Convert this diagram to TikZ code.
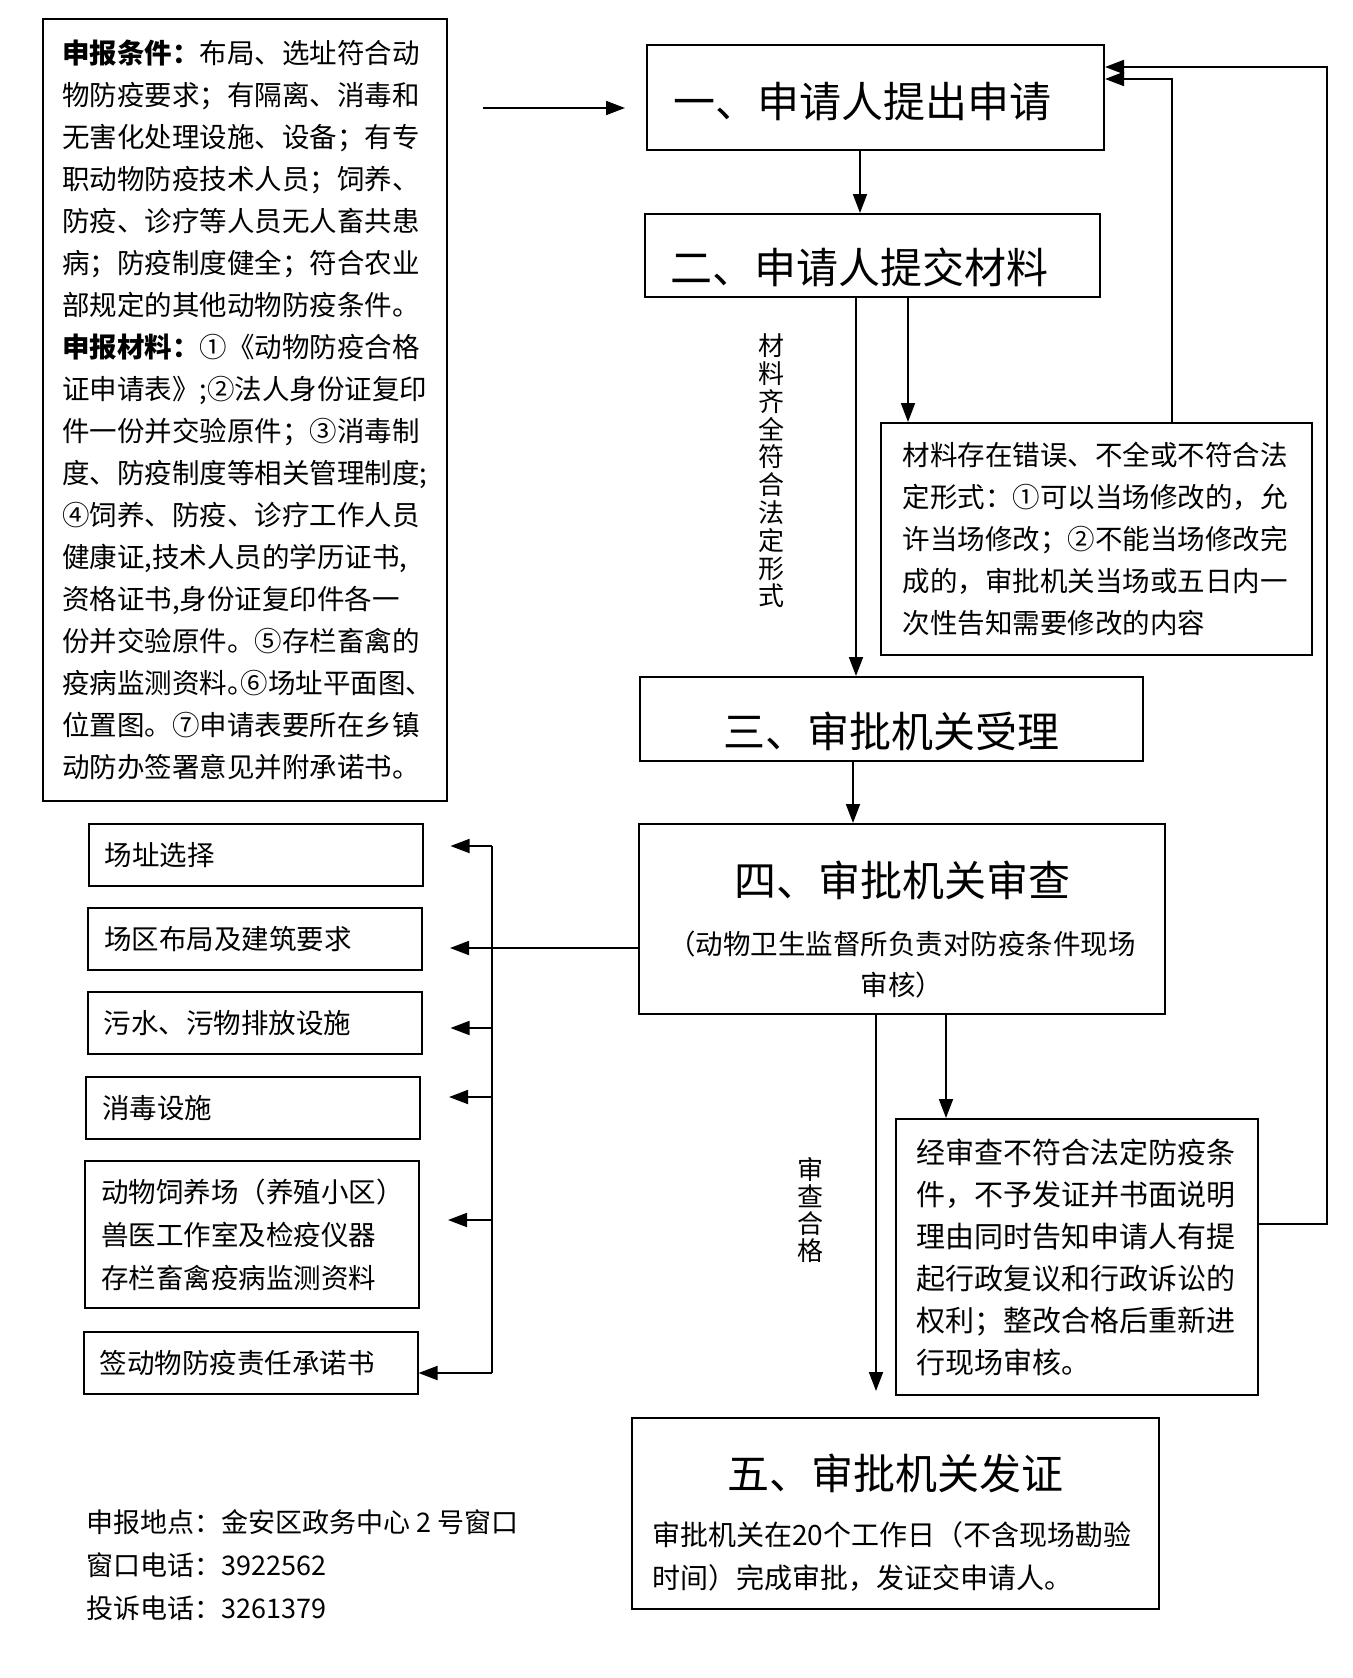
\documentclass[tikz,border=0pt]{standalone}
\usepackage{fontspec}
\setmainfont{Noto Sans CJK SC}
\newfontfamily\halfpunct{Noto Sans CJK SC}[RawFeature=+halt]
\usetikzlibrary{arrows.meta}

\begin{document}
\begin{tikzpicture}[x=1pt,y=-1pt,
  box/.style={draw,line width=2pt,inner ysep=0pt},
  big/.style={font=\fontsize{42}{50}\selectfont},
  txt/.style={font=\fontsize{27.5}{42}\selectfont},
  sbox/.style={box,txt,text width=302pt,inner xsep=16pt,minimum height=62pt,align=left},
  arr/.style={line width=1.8pt,-{Triangle[length=19pt,width=14pt]}}]
\useasboundingbox (0,0) rectangle (1352,1678);

\node[box,txt,text width=366pt,inner xsep=19pt,minimum height=782pt,align=left] (cond) at (245,410)
  {{\bfseries 申报条件：}布局、选址符合动\\物防疫要求；有隔离、消毒和\\无害化处理设施、设备；有专\\职动物防疫技术人员；饲养、\\防疫、诊疗等人员无人畜共患\\病；防疫制度健全；符合农业\\部规定的其他动物防疫条件。\\
   {\bfseries 申报材料：}①《动物防疫合格\\证申请表》;②法人身份证复印\\件一份并交验原件；③消毒制\\度、防疫制度等相关管理制度;\\④饲养、防疫、诊疗工作人员\\健康证,技术人员的学历证书,\\资格证书,身份证复印件各一\\份并交验原件。⑤存栏畜禽的\\疫病监测资料{\halfpunct 。}⑥场址平面图{\halfpunct 、}\\位置图。⑦申请表要所在乡镇\\动防办签署意见并附承诺书。};

\node[box,big,minimum width=457pt,minimum height=105pt] (app) at (875.5,97.5)
  {\hspace*{-26pt}\raisebox{-4pt}[\height][\depth]{一、申请人提出申请}};
\node[box,big,minimum width=455pt,minimum height=83pt] (sub) at (872.5,255.5)
  {\hspace*{-26pt}\raisebox{-12pt}[\height][\depth]{二、申请人提交材料}};
\node[box,txt,text width=388pt,inner xsep=21.5pt,minimum height=232pt,align=left] (err) at (1096.5,539)
  {材料存在错误、不全或不符合法\\定形式：①可以当场修改的，允\\许当场修改；②不能当场修改完\\成的，审批机关当场或五日内一\\次性告知需要修改的内容};
\node[box,big,minimum width=503pt,minimum height=84pt] (acc) at (891.5,719)
  {\raisebox{-12pt}[\height][\depth]{三、审批机关受理}};
\node[box,text width=486pt,inner xsep=20pt,minimum height=190pt,align=center] (rev) at (902,919)
  {{\fontsize{42}{50}\selectfont\rule{0pt}{57pt}四、审批机关审查\par}\vspace{17pt}{\fontsize{27.5}{41}\selectfont （动物卫生监督所负责对防疫条件现场\\审核）\par}};
\node[box,text width=322pt,inner xsep=20pt,minimum height=276pt,align=left,font=\fontsize{29}{42}\selectfont] (rej) at (1077,1257)
  {经审查不符合法定防疫条\\件，不予发证并书面说明\\理由同时告知申请人有提\\起行政复议和行政诉讼的\\权利；整改合格后重新进\\行现场审核。};
\node[box,text width=487pt,inner xsep=20pt,minimum height=191pt,align=left] (iss) at (895.5,1513.5)
  {\makebox[\hsize]{\fontsize{42}{50}\selectfont\rule{0pt}{53pt}五、审批机关发证}\par\vspace{13pt}{\fontsize{28}{43}\selectfont 审批机关在20个工作日（不含现场勘验\\时间）完成审批，发证交申请人。\par}};

\node[sbox] (b1) at (255.5,855) {场址选择};
\node[sbox] (b2) at (255,939) {场区布局及建筑要求};
\node[sbox] (b3) at (254.5,1023) {污水、污物排放设施};
\node[sbox] (b4) at (253,1108) {消毒设施};
\node[sbox,font=\fontsize{27.5}{43}\selectfont,minimum height=147pt] (b5) at (252,1234.5) {动物饲养场（养殖小区）\\兽医工作室及检疫仪器\\存栏畜禽疫病监测资料};
\node[sbox] (b6) at (250.5,1362.5) {签动物防疫责任承诺书};

\node[font=\fontsize{26}{27.8}\selectfont,align=center] (okmat) at (771,471) {材\\料\\齐\\全\\符\\合\\法\\定\\形\\式};
\node[font=\fontsize{26}{27}\selectfont,align=center] (okrev) at (810,1210) {审\\查\\合\\格};
\node[anchor=west,align=left,font=\fontsize{27}{43}\selectfont] (info) at (83,1565)
  {申报地点：金安区政务中心 2 号窗口\\窗口电话：3922562\\投诉电话：3261379};

\draw[arr,shorten <=35pt,shorten >=21pt] ([yshift=-10.5pt]app.west -| cond.east) -- ([yshift=-10.5pt]app.west);
\draw[arr] ([xshift=-15.5pt]app.south) -- ([xshift=-15.5pt]app.south |- sub.north);
\draw[arr] ([xshift=-16.5pt]sub.south) -- ([xshift=-16.5pt]sub.south |- acc.north);
\draw[arr] ([xshift=35.5pt]sub.south) -- ([xshift=35.5pt]sub.south |- err.north);
\draw[arr] ([xshift=75.5pt]err.north) |- ([yshift=18.5pt]app.east);
\coordinate (rail) at (1327,67);
\draw[arr] ([yshift=33pt]rej.east) -| (rail) -- (rail -| app.east);
\draw[arr] ([xshift=-38.5pt]acc.south) -- ([xshift=-38.5pt]acc.south |- rev.north);
\draw[arr,shorten >=26pt] ([xshift=-26pt]rev.south) -- ([xshift=-26pt]rev.south |- iss.north);
\draw[arr] ([xshift=44pt]rev.south) -- ([xshift=44pt]rev.south |- rej.north);

\coordinate (bustop) at (492,846);
\coordinate (busbot) at (492,1373);
\draw[line width=1.8pt] (bustop) -- (busbot);
\draw[arr,shorten >=27pt] ([yshift=-29pt]rev.west) -- ([yshift=-29pt]rev.west -| b2.east);
\draw[arr,shorten >=27pt] (bustop) -- (bustop -| b1.east);
\foreach \b/\s in {b3/-5,b4/11,b5/14.5}
  \draw[arr,shorten >=28pt] ([yshift=\s pt]\b.east -| bustop) -- ([yshift=\s pt]\b.east);
\draw[arr] (busbot) -- (busbot -| b6.east);
\end{tikzpicture}
\end{document}
